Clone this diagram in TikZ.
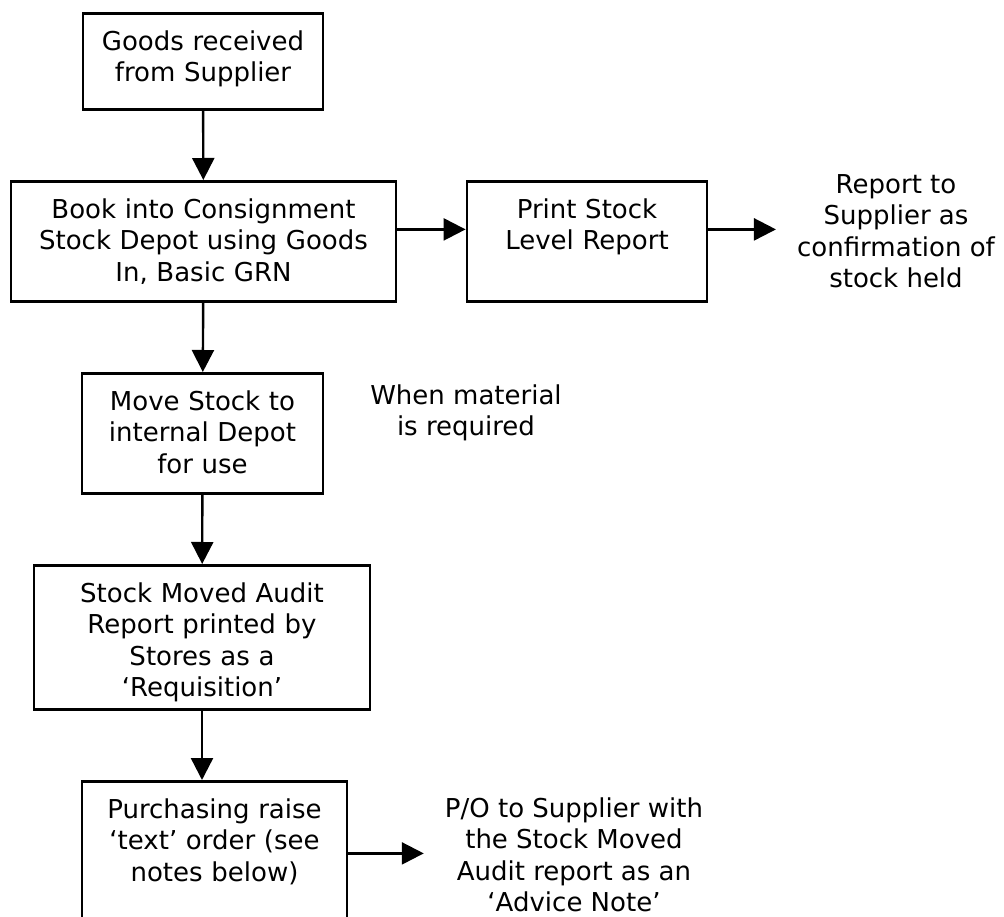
\documentclass[tikz,border=0pt]{standalone}
\usepackage{fontspec}
\setmainfont{DejaVu Sans}
\usetikzlibrary{arrows.meta}
\begin{document}
\begin{tikzpicture}[x=1pt,y=-1pt,font=\fontsize{26}{31.5}\selectfont,>={Triangle[length=22pt,width=22pt]},
	box/.style={draw,line width=2.8pt,anchor=north,align=center,inner sep=0pt,text height=37pt},
	note/.style={align=center,inner xsep=21pt,inner ysep=0pt},
	flow/.style={->,line width=2.4pt}]
	\path[use as bounding box,clip] (0,0) rectangle (1004,917);
	\node[box,text width=240pt,text depth=59pt] (goods) at (203,12) {Goods received\\from Supplier};
	\node[box,text width=385pt,text depth=83pt] (book) at (203.5,180) {Book into Consignment\\Stock Depot using Goods\\In, Basic GRN};
	\node[box,text width=240pt,text depth=83pt] (print) at (587,180) {Print Stock\\Level Report};
	\node[note] (report) at (896,231) {Report to\\Supplier as\\confirmation of\\stock held};
	\node[box,text width=241pt,text depth=83pt] (move) at (202.5,372) {Move Stock to\\internal Depot\\for use};
	\node[note] (when) at (466,413) {When material\\is required};
	\node[box,text width=336pt,text depth=107pt] (audit) at (202,564) {Stock Moved Audit\\Report printed by\\Stores as a\\‘Requisition’};
	\node[box,text width=265pt,text depth=143pt] (purch) at (214.5,780) {Purchasing raise\\‘text’ order (see\\notes below)};
	\node[note] (po) at (574,855) {P/O to Supplier with\\the Stock Moved\\Audit report as an\\‘Advice Note’};
	\draw[flow] (goods) -- (book);
	\draw[flow] ([yshift=12pt]book.east) -- ([yshift=12pt]book.east -| print.west);
	\draw[flow] ([yshift=12pt]print.east) -- ([yshift=12pt]print.east -| report.west);
	\draw[flow] (book) -- (move);
	\draw[flow] (move) -- (audit);
	\draw[flow] (audit.south) -- (audit.south |- purch.north);
	\draw[flow] ([yshift=18pt]purch.east) -- ([yshift=18pt]purch.east -| po.west);
\end{tikzpicture}
\end{document}
